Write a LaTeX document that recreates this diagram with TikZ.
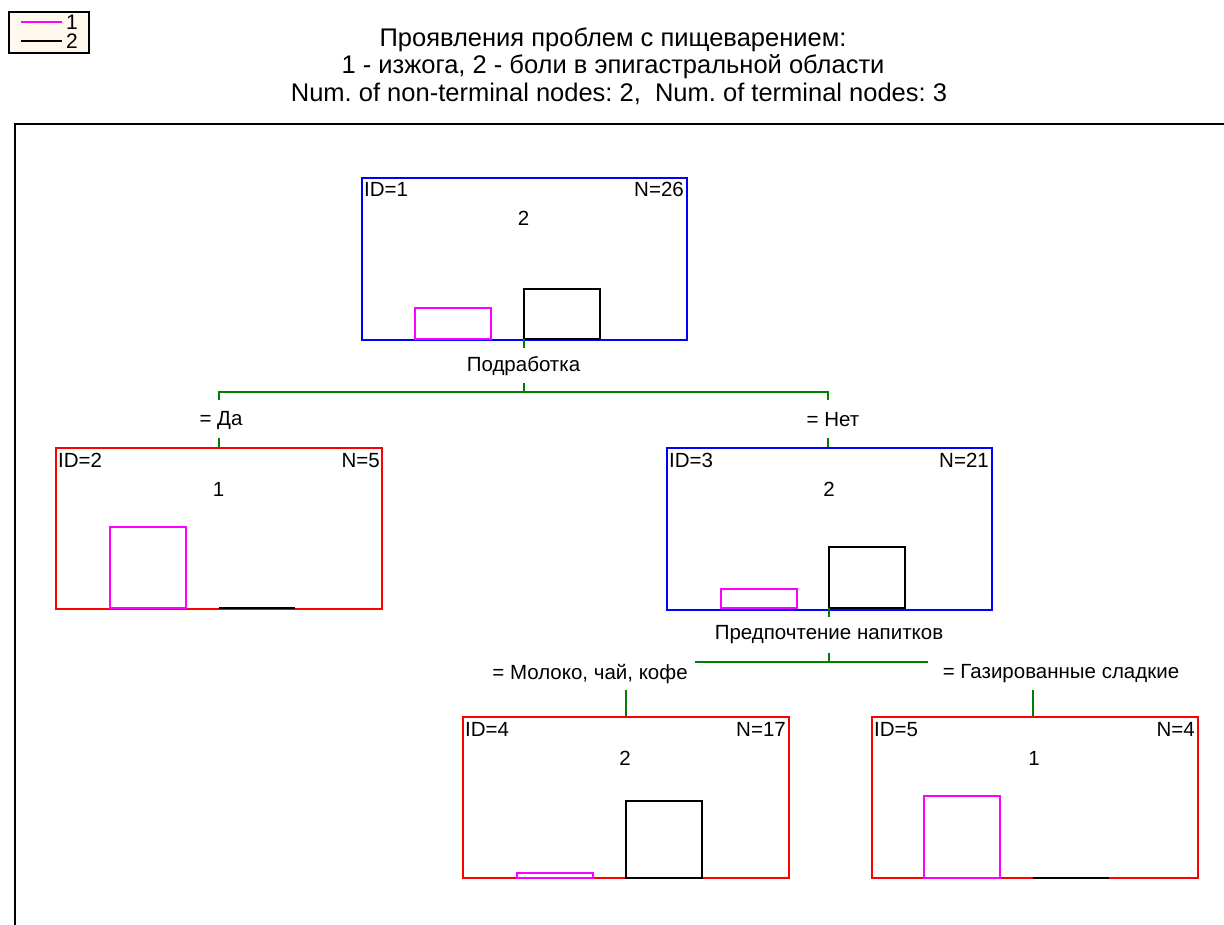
\documentclass[tikz,border=0pt]{standalone}
\usepackage{fontspec}
\setmainfont{Liberation Sans}
\definecolor{cream}{HTML}{FFF8EC}
\definecolor{dgreen}{HTML}{008000}
\definecolor{mag}{RGB}{255,0,255}
\definecolor{pblue}{RGB}{0,0,255}
\definecolor{pred}{RGB}{255,0,0}
\frenchspacing
\begin{document}
\begin{tikzpicture}[x=1pt,y=-1pt,
  ttl/.style={font=\fontsize{25.5}{30}\selectfont, inner sep=0pt},
  lab/.style={font=\fontsize{20.5}{24}\selectfont, inner sep=0pt},
  leglab/.style={font=\fontsize{21}{24}\selectfont, inner sep=0pt},
  bluebox/.style={draw=pblue, line width=1.8pt, minimum width=325pt, minimum height=162pt, anchor=north west, inner sep=0pt},
  redbox/.style={draw=pred, line width=1.8pt, minimum width=326pt, minimum height=161pt, anchor=north west, inner sep=0pt},
  magbar/.style={draw=mag, line width=1.8pt},
  blkbar/.style={draw=black, line width=1.8pt},
  conn/.style={draw=dgreen, line width=1.6pt},
]
\useasboundingbox (0,0) rectangle (1224,925);
\fill[white] (0,0) rectangle (1224,925);

% legend
\node[draw=black, fill=cream, line width=1.8pt, minimum width=80pt, minimum height=41pt, anchor=north west, inner sep=0pt] (leg) at (8,11) {};
\coordinate (l1a) at (21,22); \coordinate (l1b) at (62,22);
\coordinate (l2a) at (21,41); \coordinate (l2b) at (62,41);
\draw[mag, line width=1.5pt] (l1a) -- (l1b);
\draw[black, line width=1.5pt] (l2a) -- (l2b);
\node[leglab, anchor=base west] (leg1) at (66,29.5) {1};
\node[leglab, anchor=base west] (leg2) at (66,48.5) {2};

% title
\node[ttl] (t1) at (613,40) {Проявления проблем с пищеварением:};
\node[ttl] (t2) at (613,67) {1 - изжога, 2 - боли в эпигастральной области};
\node[ttl] (t3) at (619,94) {Num. of non-terminal nodes: 2,\ \ Num. of terminal nodes: 3};

% frame
\coordinate (fa) at (15,925); \coordinate (fb) at (15,124); \coordinate (fc) at (1224,124);
\draw[black, line width=1.8pt] (fa) -- (fb) -- (fc);

% node 1
\node[bluebox] (n1) at (361,177) {};
\node[lab, anchor=base west] (n1id) at (364,197) {ID=1};
\node[lab, anchor=base east] (n1n) at (684,197) {N=26};
\node[lab, anchor=base] (n1c) at (523.5,226) {2};
\draw[magbar] (415,339) rectangle (491,308);
\draw[blkbar] (524,339) rectangle (600,289);

% node 2
\node[redbox] (n2) at (55,447) {};
\node[lab, anchor=base west] (n2id) at (58,467) {ID=2};
\node[lab, anchor=base east] (n2n) at (380,467) {N=5};
\node[lab, anchor=base] (n2c) at (218.5,496) {1};
\draw[magbar] (110,608) rectangle (186,527);
\draw[black, line width=2.2pt] (219,608) -- (295,608);

% node 3
\node[bluebox] (n3) at (666,447) {};
\node[lab, anchor=base west] (n3id) at (669,467) {ID=3};
\node[lab, anchor=base east] (n3n) at (989,467) {N=21};
\node[lab, anchor=base] (n3c) at (829,496) {2};
\draw[magbar] (721,608) rectangle (797,589);
\draw[blkbar] (829,608) rectangle (905,547);

% node 4
\node[redbox] (n4) at (462,716) {};
\node[lab, anchor=base west] (n4id) at (465,736) {ID=4};
\node[lab, anchor=base east] (n4n) at (786,736) {N=17};
\node[lab, anchor=base] (n4c) at (625,765) {2};
\draw[magbar] (517,878) rectangle (593,873);
\draw[blkbar] (626,878) rectangle (702,801);

% node 5
\node[redbox] (n5) at (871,716) {};
\node[lab, anchor=base west] (n5id) at (874,736) {ID=5};
\node[lab, anchor=base east] (n5n) at (1195,736) {N=4};
\node[lab, anchor=base] (n5c) at (1034,765) {1};
\draw[magbar] (924,878) rectangle (1000,796);
\draw[black, line width=2.2pt] (1033,878) -- (1109,878);

% split 1
\node[lab] (s1) at (523.5,366) {Подработка};
\coordinate (n1s) at (524,339);
\coordinate (s1top) at (524,348);
\coordinate (s1bot) at (524,383);
\coordinate (h1m) at (524,392);
\coordinate (h1l) at (219,392);
\coordinate (h1r) at (828,392);
\coordinate (h1lt) at (219,400);
\coordinate (h1rt) at (828,400);
\coordinate (c2top) at (219,438);
\coordinate (c3top) at (828,438);
\draw[conn] (n1s) -- (s1top);
\draw[conn] (s1bot) -- (h1m);
\draw[conn] (h1lt) -- (h1l) -- (h1r) -- (h1rt);
\node[lab] (e2) at (221,420) {= Да};
\node[lab] (e3) at (833,420) {= Нет};
\draw[conn] (c2top) -- (219,447);
\draw[conn] (c3top) -- (828,447);

% split 2
\node[lab] (s2) at (829,635) {Предпочтение напитков};
\coordinate (n3s) at (829,608);
\coordinate (s2top) at (829,617);
\coordinate (s2bot) at (829,653);
\coordinate (h2m) at (829,662);
\coordinate (h2l) at (695,662);
\coordinate (h2r) at (928,662);
\coordinate (c4top) at (626,690);
\coordinate (c5top) at (1033,690);
\draw[conn] (n3s) -- (s2top);
\draw[conn] (s2bot) -- (h2m);
\draw[conn] (h2l) -- (h2r);
\node[lab] (e4) at (590,674) {= Молоко, чай, кофе};
\node[lab] (e5) at (1061,674) {= Газированные сладкие};
\draw[conn] (c4top) -- (626,716);
\draw[conn] (c5top) -- (1033,716);
\end{tikzpicture}
\end{document}
